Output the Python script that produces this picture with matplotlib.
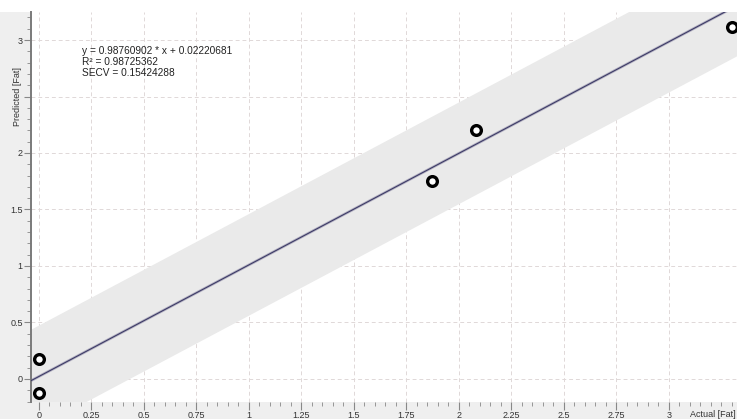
import matplotlib
matplotlib.use("Agg")
import matplotlib.pyplot as plt
import numpy as np
from matplotlib.patches import Rectangle

plt.rcParams['font.family'] = ['Liberation Sans', 'DejaVu Sans']

# measured vs predicted fat
actual = [0.0, 0.0, 1.87, 2.08, 3.30]
predicted = [0.177, -0.124, 1.752, 2.204, 3.115]

slope = 0.98760902
intercept = 0.02220681
r2 = 0.98725362
secv = 0.15424288
band_half = 0.45

x_ticks = [0, 0.25, 0.5, 0.75, 1, 1.25, 1.5, 1.75, 2, 2.25, 2.5, 2.75, 3]
x_ticklabels = ["0", "0.25", "0.5", "0.75", "1", "1.25", "1.5", "1.75", "2", "2.25", "2.5", "2.75", "3"]
y_ticks = [0, 0.5, 1, 1.5, 2, 2.5, 3]
y_ticklabels = ["0", "0.5", "1", "1.5", "2", "", "3"]

W, H = 737, 419
fig = plt.figure(figsize=(W / 100, H / 100), dpi=100, facecolor="white")

# grey panels behind the axis scales
fig.patches.append(Rectangle((0, 0), 31 / W, 1 - 12 / H, transform=fig.transFigure,
                             facecolor="#efefef", edgecolor="none", zorder=-10))
fig.patches.append(Rectangle((0, 0), 1, 17 / H, transform=fig.transFigure,
                             facecolor="#efefef", edgecolor="none", zorder=-10))

ax = fig.add_axes([31 / W, 17 / H, 1 - 31 / W, 1 - 12 / H - 17 / H])
ax.set_facecolor("white")
ax.set_xlim(-0.038, 3.324)
ax.set_ylim(-0.204, 3.248)

# regression line with its prediction band
xs = np.array([-0.1, 3.5])
fit = slope * xs + intercept
ax.fill_between(xs, fit - band_half, fit + band_half, color="#eaeaea", lw=0, zorder=1)
ax.plot(xs, fit, color="#b4b2c2", lw=2.0, zorder=2)
ax.plot(xs, fit, color="#3c3a66", lw=0.8, zorder=3)

ax.plot(actual, predicted, 'o', ms=7, mfc="white", mec="black", mew=2.4, zorder=4)

ax.text(0.205, 2.95, "y = %.8f * x + %.8f\nR\u00b2 = %.8f\nSECV = %.8f" % (slope, intercept, r2, secv),
        fontsize=7.3, va="top", ha="left", color="#222222", linespacing=1.12, zorder=5)

ax.set_xticks(x_ticks)
ax.set_xticklabels(x_ticklabels)
ax.set_xticks(np.arange(0, 3.33, 0.05), minor=True)
ax.set_yticks(y_ticks)
ax.set_yticklabels(y_ticklabels)
ax.set_yticks(np.arange(-0.2, 3.25, 0.1), minor=True)

ax.grid(True, which="major", color="#e0d8d8", lw=0.7, ls=(0, (4, 3)))
ax.set_axisbelow(True)

for s in ["top", "right", "bottom"]:
    ax.spines[s].set_visible(False)
ax.spines["left"].set_color("#7a7a7a")
ax.spines["left"].set_linewidth(1.4)

ax.tick_params(axis="x", which="both", direction="out", color="#888888", labelsize=6.5,
               labelcolor="#333333", pad=0.5)
ax.tick_params(axis="x", which="major", length=6)
ax.tick_params(axis="x", which="minor", length=3)
ax.tick_params(axis="y", which="both", direction="out", color="#888888", labelsize=6.5,
               labelcolor="#333333", pad=1)
ax.tick_params(axis="y", which="major", length=5)
ax.tick_params(axis="y", which="minor", length=3)

fig.text(17 / W, 1 - 96 / H, "Predicted [Fat]", rotation=90, fontsize=6.5,
         color="#333333", ha="center", va="center")
fig.text(736 / W, 1 - 414 / H, "Actual [Fat]", fontsize=6.5, color="#333333",
         ha="right", va="center")

fig.savefig("out.png", dpi=100, facecolor="white")
